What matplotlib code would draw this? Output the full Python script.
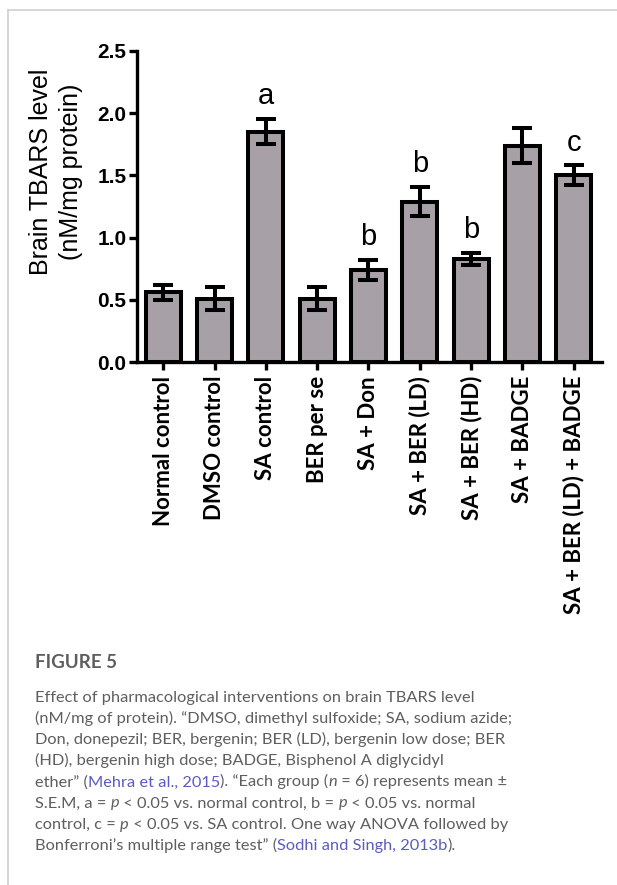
import matplotlib
matplotlib.use("Agg")
import matplotlib.pyplot as plt
from matplotlib.lines import Line2D
import numpy as np

# Brain TBARS level (nM/mg protein), mean and S.E.M per treatment group
groups = ["Normal control", "DMSO control", "SA control", "BER per se", "SA + Don",
          "SA + BER (LD)", "SA + BER (HD)", "SA + BADGE", "SA + BER (LD) + BADGE"]
tbars_mean = [0.56, 0.51, 1.85, 0.51, 0.74, 1.29, 0.83, 1.74, 1.50]
tbars_sem = [0.06, 0.09, 0.10, 0.09, 0.08, 0.12, 0.05, 0.14, 0.08]
sig_letters = ["", "", "a", "", "b", "b", "b", "", "c"]
y_ticks = [0.0, 0.5, 1.0, 1.5, 2.0, 2.5]

W, H = 617, 885
fig = plt.figure(figsize=(W / 100, H / 100), dpi=100)
fig.patch.set_facecolor("white")

# panel frame (top and left edges)
frame_c = "#cfcfcf"
fig.add_artist(Line2D([8 / W, 1], [1 - 9.5 / H] * 2, transform=fig.transFigure, color=frame_c, lw=1.2))
fig.add_artist(Line2D([8 / W] * 2, [0, 1 - 9.5 / H], transform=fig.transFigure, color=frame_c, lw=1.2))

ax = fig.add_axes([137 / W, 1 - 362 / H, (602 - 137) / W, (362 - 51) / H])
x = np.arange(len(groups))
ax.bar(x, tbars_mean, width=0.68, color="#a7a1a7", edgecolor="black", linewidth=2.9, zorder=2)
ax.errorbar(x, tbars_mean, yerr=tbars_sem, fmt="none", ecolor="black", elinewidth=2.9,
            capsize=7.2, capthick=2.9, zorder=3)

for xi, m, s, lab in zip(x, tbars_mean, tbars_sem, sig_letters):
    if lab:
        ax.text(xi, m + s + 0.12, lab, ha="center", va="baseline", fontsize=21,
                family="Liberation Sans", color="black")

ax.set_xlim(-0.51, 8.55)
ax.set_ylim(0, 2.5)
ax.spines[["top", "right"]].set_visible(False)
for sp in ("left", "bottom"):
    ax.spines[sp].set_linewidth(2.4)
ax.tick_params(axis="both", width=2.4, length=6, direction="out", color="black")
ax.tick_params(axis="y", pad=1.5)
ax.tick_params(axis="x", pad=4)
ax.set_yticks(y_ticks)
ax.set_yticklabels([f"{v:.1f}" for v in y_ticks], fontsize=15, fontweight="bold",
                   family="Liberation Sans")
ax.set_xticks(x)
ax.set_xticklabels(groups, rotation=90, ha="center", va="top", fontsize=16,
                   fontweight="bold", family="Lato")

fig.text(56 / W, 1 - 172 / H, "Brain TBARS level\n(nM/mg protein)", rotation=90,
         ha="center", va="center", multialignment="center", fontsize=18,
         family="Liberation Sans", linespacing=1.3)

# caption
cap_grey = "#5e5e5e"
link_c = "#5b5bc2"
cap_family = ["Lato", "DejaVu Sans"]
cap_size = 11.8
fig.text(35 / W, 1 - 662 / H, "FIGURE 5", ha="left", va="center", fontsize=13.5,
         fontweight="bold", color=cap_grey, family=cap_family)

caption = [
    [("Effect of pharmacological interventions on brain TBARS level", "n")],
    [("(nM/mg of protein). \u201cDMSO, dimethyl sulfoxide; SA, sodium azide;", "n")],
    [("Don, donepezil; BER, bergenin; BER (LD), bergenin low dose; BER", "n")],
    [("(HD), bergenin high dose; BADGE, Bisphenol A diglycidyl", "n")],
    [("ether\u201d (", "n"), ("Mehra et al., 2015", "l"), ("). \u201cEach group (", "n"),
     ("n", "i"), (" = 6) represents mean \u00b1", "n")],
    [("S.E.M, a = ", "n"), ("p", "i"), (" \u02c2 0.05 vs. normal control, b = ", "n"), ("p", "i"),
     (" \u02c2 0.05 vs. normal", "n")],
    [("control, c = ", "n"), ("p", "i"), (" \u02c2 0.05 vs. SA control. One way ANOVA followed by", "n")],
    [("Bonferroni\u2019s multiple range test\u201d (", "n"), ("Sodhi and Singh, 2013b", "l"), (").", "n")],
]

renderer = fig.canvas.get_renderer()


def run_style(kind):
    kw = dict(fontsize=cap_size, family=cap_family, color=cap_grey)
    if kind == "i":
        kw["style"] = "italic"
    if kind == "l":
        kw["color"] = link_c
    return kw


def run_width(s, kw):
    t1 = fig.text(0, 0, s + "|", **kw)
    w1 = t1.get_window_extent(renderer).width
    t1.remove()
    t2 = fig.text(0, 0, "|", **kw)
    w2 = t2.get_window_extent(renderer).width
    t2.remove()
    return w1 - w2


x0, base0, step = 35, 702, 21.1
for k, line in enumerate(caption):
    xp = x0
    yp = 1 - (base0 + k * step) / H
    for s, kind in line:
        kw = run_style(kind)
        fig.text(xp / W, yp, s, ha="left", va="baseline", **kw)
        xp += run_width(s, kw)

fig.savefig("out.png", dpi=100, facecolor="white")
